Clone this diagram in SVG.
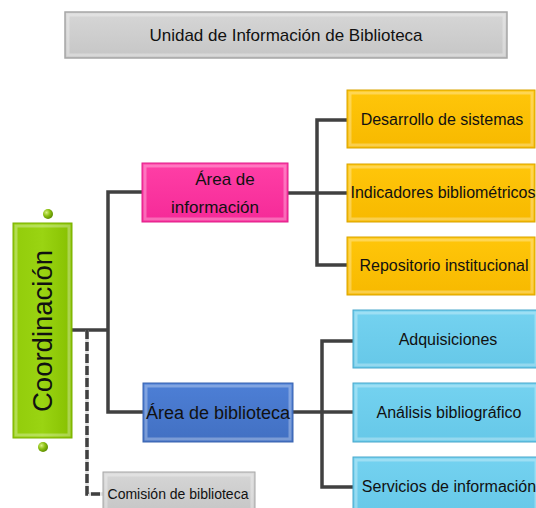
<svg xmlns="http://www.w3.org/2000/svg" width="536" height="508" viewBox="0 0 536 508">
<defs>
<style>
text{font-family:"Liberation Sans",Arial,sans-serif;fill:#111;}
.t{font-size:16px;text-anchor:middle;}
.ln{fill:none;stroke:#404040;stroke-width:3.5;}
.bevel{fill:none;stroke:#ffffff;stroke-opacity:0.3;stroke-width:3;}
</style>
<linearGradient id="gGray" x1="0" y1="0" x2="0" y2="1"><stop offset="0" stop-color="#d6d6d6"/><stop offset="1" stop-color="#c6c6c6"/></linearGradient>
<linearGradient id="gGreen" x1="0" y1="0" x2="1" y2="0"><stop offset="0" stop-color="#92cc0a"/><stop offset="0.5" stop-color="#9ad412"/><stop offset="1" stop-color="#86c000"/></linearGradient>
<linearGradient id="gPink" x1="0" y1="0" x2="0" y2="1"><stop offset="0" stop-color="#ff3fa6"/><stop offset="1" stop-color="#f52a98"/></linearGradient>
<linearGradient id="gBlue" x1="0" y1="0" x2="0" y2="1"><stop offset="0" stop-color="#4d7fd6"/><stop offset="1" stop-color="#4270c2"/></linearGradient>
<linearGradient id="gYel" x1="0" y1="0" x2="0" y2="1"><stop offset="0" stop-color="#ffc60a"/><stop offset="1" stop-color="#f7b900"/></linearGradient>
<linearGradient id="gCyan" x1="0" y1="0" x2="0" y2="1"><stop offset="0" stop-color="#74d2f0"/><stop offset="1" stop-color="#66c8e8"/></linearGradient>
<radialGradient id="gDot" cx="0.35" cy="0.35" r="0.7"><stop offset="0" stop-color="#d8f080"/><stop offset="0.5" stop-color="#8cc010"/><stop offset="1" stop-color="#5a8a00"/></radialGradient>
</defs>

<g id="connectors">
<polyline class="ln" points="72,330 108,330"/>
<polyline class="ln" points="142,192 108,192 108,412 143,412"/>
<path d="M87,330 V494 H103" fill="none" stroke="#e0e0e0" stroke-width="3.5"/>
<path d="M87,330 V494 H103" fill="none" stroke="#404040" stroke-width="3.5" stroke-dasharray="9,3"/>
<polyline class="ln" points="288,193 347,193"/>
<polyline class="ln" points="347,120 317,120 317,265 347,265"/>
<polyline class="ln" points="293,412 353,412"/>
<polyline class="ln" points="353,341 322,341 322,487 353,487"/>
</g>

<g id="title">
<rect x="65" y="12" width="442" height="46" fill="url(#gGray)" stroke="#a6a6a6" stroke-width="1.5"/>
<rect x="68" y="15" width="436" height="40" class="bevel"/>
<text x="286" y="41" style="font-size:17px;text-anchor:middle">Unidad de Información de Biblioteca</text>
</g>

<g id="coordinacion">
<circle cx="48" cy="214" r="5" fill="url(#gDot)"/>
<circle cx="43" cy="447" r="5" fill="url(#gDot)"/>
<rect x="13" y="223" width="59" height="215" fill="url(#gGreen)" stroke="#7ab000" stroke-width="1"/>
<rect x="16" y="226" width="53" height="209" class="bevel"/>
<text transform="translate(52,331) rotate(-90)" style="font-size:27.5px;text-anchor:middle">Coordinación</text>
</g>

<g id="area-informacion">
<rect x="142" y="163" width="146" height="59" fill="url(#gPink)" stroke="#e0208a" stroke-width="1"/>
<rect x="145" y="166" width="140" height="53" class="bevel"/>
<text x="225" y="185" class="t" style="font-size:17px">Área de</text>
<text x="215" y="213" class="t" style="font-size:17px">información</text>
</g>

<g id="area-biblioteca">
<rect x="143" y="383" width="150" height="59" fill="url(#gBlue)" stroke="#3a64b0" stroke-width="1"/>
<rect x="146" y="386" width="144" height="53" class="bevel"/>
<text x="218" y="419" class="t" style="font-size:18px">Área de biblioteca</text>
</g>

<g id="comision">
<rect x="103" y="472" width="152" height="40" fill="url(#gGray)" stroke="#a6a6a6" stroke-width="1"/>
<rect x="106" y="475" width="146" height="40" class="bevel"/>
<text x="178" y="499" style="font-size:14px;text-anchor:middle">Comisión de biblioteca</text>
</g>

<g id="desarrollo">
<rect x="347" y="90" width="188" height="58" fill="url(#gYel)" stroke="#d9a400" stroke-width="1"/>
<rect x="350" y="93" width="182" height="52" class="bevel"/>
<text x="442" y="125" class="t">Desarrollo de sistemas</text>
</g>
<g id="indicadores">
<rect x="347" y="164" width="188" height="58" fill="url(#gYel)" stroke="#d9a400" stroke-width="1"/>
<rect x="350" y="167" width="182" height="52" class="bevel"/>
<text x="443" y="198" class="t">Indicadores bibliométricos</text>
</g>
<g id="repositorio">
<rect x="347" y="237" width="188" height="58" fill="url(#gYel)" stroke="#d9a400" stroke-width="1"/>
<rect x="350" y="240" width="182" height="52" class="bevel"/>
<text x="444" y="271" class="t">Repositorio institucional</text>
</g>

<g id="adquisiciones">
<rect x="353" y="310" width="185" height="58" fill="url(#gCyan)" stroke="#4aa8cc" stroke-width="1"/>
<rect x="356" y="313" width="180" height="52" class="bevel"/>
<text x="448" y="345" class="t">Adquisiciones</text>
</g>
<g id="analisis">
<rect x="353" y="383" width="185" height="59" fill="url(#gCyan)" stroke="#4aa8cc" stroke-width="1"/>
<rect x="356" y="386" width="180" height="53" class="bevel"/>
<text x="449" y="418" class="t">Análisis bibliográfico</text>
</g>
<g id="servicios">
<rect x="353" y="457" width="185" height="58" fill="url(#gCyan)" stroke="#4aa8cc" stroke-width="1"/>
<rect x="356" y="460" width="180" height="52" class="bevel"/>
<text x="449" y="492" class="t">Servicios de información</text>
</g>
</svg>
